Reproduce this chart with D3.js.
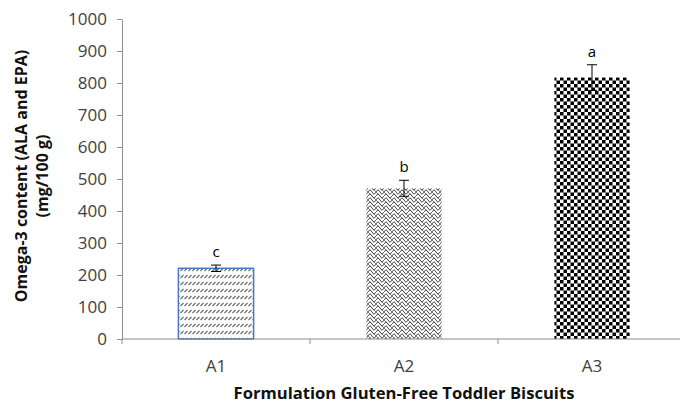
<!DOCTYPE html>
<html>
<head>
<meta charset="utf-8">
<script src="https://cdn.jsdelivr.net/npm/d3@7"></script>
<style>
  body { margin: 0; background: #fff; }
  text { font-family: "Open Sans", "Liberation Sans", sans-serif; }
</style>
</head>
<body>
<div id="chart"></div>
<script>
(function() {

  var width = 680,
      height = 405

  var categories = ["A1", "A2", "A3"]
  var values = [221, 471, 817]
  var errors = [10, 25, 40]
  var letters = ["c", "b", "a"]
  var yTicks = [0, 100, 200, 300, 400, 500, 600, 700, 800, 900, 1000]
  var patterns = ["hatch", "wave", "checker"]

  var margin = { top: 19, left: 122, bottom: 66, right: -6 }

  var svg = d3.select("#chart")
    .append("svg")
    .attr("width", width)
    .attr("height", height)

  var defs = svg.append("defs")

  // small slanted dashes
  var p1 = defs.append("pattern")
    .attr("id", "hatch")
    .attr("patternUnits", "userSpaceOnUse")
    .attr("width", 4)
    .attr("height", 7)
  p1.append("path")
    .attr("d", "M0.5,5 L3.5,2")
    .attr("stroke", "#666")
    .attr("stroke-width", 1.1)

  // scale-like waves
  var p2 = defs.append("pattern")
    .attr("id", "wave")
    .attr("patternUnits", "userSpaceOnUse")
    .attr("width", 8)
    .attr("height", 8)
  p2.append("path")
    .attr("d", "M0,4 Q2,0 4,4 Q6,8 8,4 M0,8 Q2,4 4,8 M4,0 Q6,4 8,0")
    .attr("fill", "none")
    .attr("stroke", "#333")
    .attr("stroke-width", 0.9)
  p2.append("path")
    .attr("d", "M0,0 L4,4 L8,8")
    .attr("fill", "none")
    .attr("stroke", "#444")
    .attr("stroke-width", 0.7)

  // checkerboard
  var p3 = defs.append("pattern")
    .attr("id", "checker")
    .attr("patternUnits", "userSpaceOnUse")
    .attr("width", 7)
    .attr("height", 7)
  p3.append("rect").attr("width", 7).attr("height", 7).attr("fill", "#fff")
  p3.append("rect").attr("x", 0).attr("y", 0).attr("width", 3.5).attr("height", 3.5).attr("fill", "#000")
  p3.append("rect").attr("x", 3.5).attr("y", 3.5).attr("width", 3.5).attr("height", 3.5).attr("fill", "#000")

  var x = d3.scaleBand()
    .domain(categories)
    .range([margin.left, width - margin.right])
    .paddingInner(0.6)
    .paddingOuter(0.3)

  var y = d3.scaleLinear()
    .domain([0, 1000])
    .range([height - margin.bottom, margin.top])

  // y axis
  var yAxis = svg.append("g")
    .attr("transform", "translate(" + margin.left + ",0)")
    .call(d3.axisLeft(y).tickValues(yTicks).tickFormat(d3.format("d")).tickSize(5).tickSizeOuter(0).tickPadding(10))
  yAxis.select(".domain").attr("stroke", "#8c8c8c")
  yAxis.selectAll(".tick line").attr("stroke", "#8c8c8c")
  yAxis.selectAll(".tick text")
    .attr("fill", "#404040")
    .style("font-size", "17px")

  // bars
  svg.selectAll(".bar")
    .data(values)
    .enter().append("rect")
    .attr("class", "bar")
    .attr("x", function(d, i) { return x(categories[i]) })
    .attr("y", function(d) { return y(d) })
    .attr("width", x.bandwidth())
    .attr("height", function(d) { return y(0) - y(d) })
    .attr("fill", function(d, i) { return "url(#" + patterns[i] + ")" })
    .attr("stroke", function(d, i) { return i === 0 ? "#4a78c0" : "none" })
    .attr("stroke-width", 1.5)

  // error bars
  var eb = svg.selectAll(".err")
    .data(values)
    .enter().append("g")
    .attr("class", "err")
    .attr("stroke", "#000")
    .attr("stroke-width", 1)
  eb.append("line")
    .attr("x1", function(d, i) { return x(categories[i]) + x.bandwidth() / 2 })
    .attr("x2", function(d, i) { return x(categories[i]) + x.bandwidth() / 2 })
    .attr("y1", function(d, i) { return y(d - errors[i]) })
    .attr("y2", function(d, i) { return y(d + errors[i]) })
  eb.append("line")
    .attr("x1", function(d, i) { return x(categories[i]) + x.bandwidth() / 2 - 5 })
    .attr("x2", function(d, i) { return x(categories[i]) + x.bandwidth() / 2 + 5 })
    .attr("y1", function(d, i) { return y(d + errors[i]) })
    .attr("y2", function(d, i) { return y(d + errors[i]) })
  eb.append("line")
    .attr("x1", function(d, i) { return x(categories[i]) + x.bandwidth() / 2 - 5 })
    .attr("x2", function(d, i) { return x(categories[i]) + x.bandwidth() / 2 + 5 })
    .attr("y1", function(d, i) { return y(d - errors[i]) })
    .attr("y2", function(d, i) { return y(d - errors[i]) })

  // significance letters
  svg.selectAll(".letter")
    .data(values)
    .enter().append("text")
    .attr("class", "letter")
    .attr("x", function(d, i) { return x(categories[i]) + x.bandwidth() / 2 })
    .attr("y", function(d, i) { return y(d + errors[i]) - 8 })
    .attr("text-anchor", "middle")
    .style("font-size", "15px")
    .attr("fill", "#000")
    .text(function(d, i) { return letters[i] })

  // x axis
  var step = x.step()
  var boundaries = [0, 1, 2, 3].map(function(k) { return margin.left + k * step })
  svg.append("line")
    .attr("x1", margin.left)
    .attr("x2", width)
    .attr("y1", y(0))
    .attr("y2", y(0))
    .attr("stroke", "#8c8c8c")
  svg.selectAll(".xtick")
    .data(boundaries)
    .enter().append("line")
    .attr("class", "xtick")
    .attr("x1", function(d) { return d })
    .attr("x2", function(d) { return d })
    .attr("y1", y(0))
    .attr("y2", y(0) + 5)
    .attr("stroke", "#8c8c8c")
  svg.selectAll(".xlabel")
    .data(categories)
    .enter().append("text")
    .attr("class", "xlabel")
    .attr("x", function(d) { return x(d) + x.bandwidth() / 2 })
    .attr("y", y(0) + 33)
    .attr("text-anchor", "middle")
    .attr("fill", "#404040")
    .style("font-size", "17px")
    .text(function(d) { return d })

  // axis titles
  svg.append("text")
    .attr("x", 404)
    .attr("y", 399)
    .attr("text-anchor", "middle")
    .style("font-size", "16.6px")
    .style("font-weight", "bold")
    .attr("fill", "#111")
    .text("Formulation Gluten-Free Toddler Biscuits")

  var yt = svg.append("text")
    .attr("transform", "translate(27,176) rotate(-90)")
    .attr("text-anchor", "middle")
    .style("font-size", "16px")
    .style("font-weight", "bold")
    .attr("fill", "#111")
  yt.append("tspan").attr("x", 0).attr("dy", 0).text("Omega-3 content (ALA and EPA)")
  yt.append("tspan").attr("x", 0).attr("dy", 21).text("(mg/100 g)")

})()
</script>
</body>
</html>
